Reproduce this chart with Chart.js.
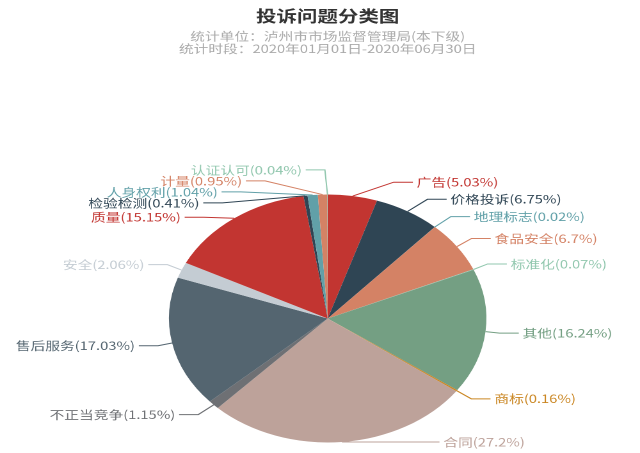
<!DOCTYPE html>
<html>
<head>
<meta charset="utf-8">
<script src="https://cdn.jsdelivr.net/npm/chart.js@4.4.1/dist/chart.umd.min.js"></script>
<style>
  html, body { margin: 0; padding: 0; background: #fff; overflow: hidden; }
  #wrap { width: 500px; height: 453px; transform: scaleX(1.28); transform-origin: 0 0; }
</style>
</head>
<body>
<div id="wrap"><canvas id="c" width="500" height="453"></canvas></div>
<script>
const categories = ['广告','价格投诉','地理标志','食品安全','标准化','其他','商标','合同','不正当竞争','售后服务','安全','质量','检验检测','人身权利','计量','认证认可'];
const shares = [5.03, 6.75, 0.02, 6.7, 0.07, 16.24, 0.16, 27.2, 1.15, 17.03, 2.06, 15.15, 0.41, 1.04, 0.95, 0.04];
const palette = ['#c23531','#2f4554','#61a0a8','#d48265','#91c7ae','#749f83','#ca8622','#bda29a','#6e7074','#546570','#c4ccd3'];
const titleText = '投诉问题分类图';
const subtitleLines = ['统计单位：泸州市市场监督管理局(本下级)', '统计时段：2020年01月01日-2020年06月30日'];

const FONT = '"Noto Sans CJK SC", "Noto Sans", sans-serif';
const colors = categories.map((_, i) => palette[i % palette.length]);

function adjustSingleSide(list, cx, cy, R, R2, dir, viewHeight) {
  list.sort((a, b) => a.y - b.y);
  function shiftDown(start, end, delta) {
    for (let j = start; j < end; j++) {
      list[j].y += delta;
      if (j > start && j + 1 < end && list[j + 1].y > list[j].y + list[j].height) {
        shiftUp(j, delta / 2);
        return;
      }
    }
    shiftUp(end - 1, delta / 2);
  }
  function shiftUp(end, delta) {
    for (let j = end; j >= 0; j--) {
      list[j].y -= delta;
      if (j > 0 && list[j].y > list[j - 1].y + list[j - 1].height) break;
    }
  }
  function changeX(sub, isDown) {
    let last = isDown ? Number.MAX_VALUE : 0;
    for (const it of sub) {
      const dY = Math.abs(it.y - cy);
      let dX = dY < R ? Math.sqrt(R2 * R2 - dY * dY) : Math.abs(it.x - cx);
      if (isDown && dX >= last) dX = last - 10;
      if (!isDown && dX <= last) dX = last + 10;
      it.x = cx + dX * dir;
      last = dX;
    }
  }
  let lastY = 0;
  const n = list.length;
  for (let i = 0; i < n; i++) {
    const delta = list[i].y - lastY;
    if (delta < 0) shiftDown(i, n, -delta);
    lastY = list[i].y + list[i].height;
  }
  if (n && viewHeight - lastY < 0) shiftUp(n - 1, lastY - viewHeight);
  const up = [], down = [];
  for (const it of list) (it.y >= cy ? down : up).push(it);
  changeX(up, false);
  changeX(down, true);
}

const decorPlugin = {
  id: 'decor',
  afterDraw(chart) {
    const ctx = chart.ctx;
    const ca = chart.chartArea;
    const mx = (ca.left + ca.right) / 2;
    ctx.save();
    ctx.textAlign = 'center';
    ctx.textBaseline = 'middle';
    ctx.fillStyle = '#333';
    ctx.font = 'bold 16px ' + FONT;
    ctx.fillText(titleText, mx, 16);
    ctx.fillStyle = '#aaa';
    ctx.font = '11.5px ' + FONT;
    subtitleLines.forEach((t, k) => ctx.fillText(t, mx, 36 + k * 12.5));

    // outside labels with label lines (ECharts-style layout)
    const meta = chart.getDatasetMeta(0);
    const LEN = 14, LEN2 = 15, H = 11;
    let cx = 0, cy = 0, r = 0;
    const items = meta.data.map((arc, i) => {
      const p = arc.getProps(['x', 'y', 'startAngle', 'endAngle', 'outerRadius'], true);
      cx = p.x; cy = p.y; r = p.outerRadius;
      const mid = (p.startAngle + p.endAngle) / 2;
      const dx = Math.cos(mid), dy = Math.sin(mid);
      const x1 = cx + r * dx, y1 = cy + r * dy;
      const x2 = x1 + dx * LEN, y2 = y1 + dy * LEN;
      const dir = dx < 0 ? -1 : 1;
      const x3 = x2 + dir * LEN2;
      return { dir, x: x3 + dir * 5, y: y2, height: H, p1: [x1, y1],
               text: categories[i] + '(' + shares[i] + '%)', color: colors[i] };
    });
    const left = items.filter(it => it.dir < 0);
    const right = items.filter(it => it.dir > 0);
    adjustSingleSide(left, cx, cy, r + LEN, r + LEN + LEN2, -1, chart.height);
    adjustSingleSide(right, cx, cy, r + LEN, r + LEN + LEN2, 1, chart.height);

    ctx.font = '11.5px ' + FONT;
    ctx.textBaseline = 'middle';
    ctx.lineWidth = 1;
    for (const it of items) {
      const x3 = it.x - it.dir * 3;
      const x2 = x3 - it.dir * LEN2;
      ctx.strokeStyle = it.color;
      ctx.beginPath();
      ctx.moveTo(it.p1[0], it.p1[1]);
      ctx.lineTo(x2, it.y);
      ctx.lineTo(x3, it.y);
      ctx.stroke();
      ctx.fillStyle = it.color;
      ctx.textAlign = it.dir < 0 ? 'right' : 'left';
      ctx.fillText(it.text, it.x, it.y);
    }
    ctx.restore();
  }
};

new Chart(document.getElementById('c'), {
  type: 'pie',
  data: {
    labels: categories,
    datasets: [{
      data: shares,
      backgroundColor: colors,
      borderWidth: 0,
      hoverOffset: 0
    }]
  },
  options: {
    responsive: false,
    animation: false,
    devicePixelRatio: 2,
    radius: 124,
    layout: { padding: { left: 100, right: 88, top: 190, bottom: 6 } },
    plugins: {
      legend: { display: false },
      tooltip: { enabled: false },
      title: { display: false }
    }
  },
  plugins: [decorPlugin]
});
</script>
</body>
</html>
